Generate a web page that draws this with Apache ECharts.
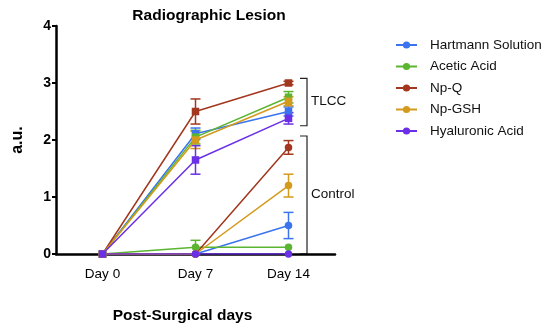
<!DOCTYPE html>
<html><head><meta charset="utf-8">
<script src="https://cdn.jsdelivr.net/npm/echarts@6/dist/echarts.min.js"></script>
<style>html,body{margin:0;padding:0;background:#fff}#c{width:550px;height:329px}</style>
</head><body><div id="c"></div>
<script>
var categories = ['Day 0', 'Day 7', 'Day 14'];
var seriesNames = ['Hartmann Solution', 'Acetic Acid', 'Np-Q', 'Np-GSH', 'Hyaluronic Acid'];
var yTicks = [0, 1, 2, 3, 4];
// TLCC group (squares)
var tlccHartmann = [0, 2.11, 2.5];
var tlccAcetic = [0, 2.05, 2.75];
var tlccNpQ = [0, 2.5, 3.0];
var tlccNpGSH = [0, 2.0, 2.68];
var tlccHyaluronic = [0, 1.65, 2.38];
var tlccHartmannErr = [0, 0.1, 0.08];
var tlccAceticErr = [0, 0.12, 0.1];
var tlccNpQErr = [0, 0.22, 0.03];
var tlccNpGSHErr = [0, 0.15, 0.08];
var tlccHyaluronicErr = [0, 0.25, 0.1];
// Control group (circles)
var ctrlHartmann = [0, 0, 0.5];
var ctrlAcetic = [0, 0.12, 0.12];
var ctrlNpQ = [0, 0, 1.87];
var ctrlNpGSH = [0, 0, 1.2];
var ctrlHyaluronic = [0, 0, 0];
var ctrlHartmannErr = [0, 0, 0.23];
var ctrlAceticErr = [0, 0.12, 0];
var ctrlNpQErr = [0, 0, 0.12];
var ctrlNpGSHErr = [0, 0, 0.2];
var ctrlHyaluronicErr = [0, 0, 0];

var colors = ['#3b74ee', '#5cb531', '#a3361e', '#d49a1c', '#6a2fe6'];
var tlccData = [tlccHartmann, tlccAcetic, tlccNpQ, tlccNpGSH, tlccHyaluronic];
var tlccErr = [tlccHartmannErr, tlccAceticErr, tlccNpQErr, tlccNpGSHErr, tlccHyaluronicErr];
var ctrlData = [ctrlHartmann, ctrlAcetic, ctrlNpQ, ctrlNpGSH, ctrlHyaluronic];
var ctrlErr = [ctrlHartmannErr, ctrlAceticErr, ctrlNpQErr, ctrlNpGSHErr, ctrlHyaluronicErr];

var FONT = 'Liberation Sans, Arial';
var chart = echarts.init(document.getElementById('c'));
var series = [];
function addLine(name, data, color, symbol) {
  series.push({
    type: 'line', name: name, data: data, symbol: symbol, symbolSize: 7.5,
    lineStyle: {color: color, width: 1.5}, itemStyle: {color: color},
    emphasis: {disabled: true}, z: 3
  });
}
function addErr(name, data, err, color) {
  series.push({
    type: 'custom', name: name, z: 2,
    data: data.map(function (v, i) { return [i, v - err[i], v + err[i]]; }),
    renderItem: function (params, api) {
      if (api.value(2) - api.value(1) <= 0) return null;
      var lo = api.coord([api.value(0), api.value(1)]);
      var hi = api.coord([api.value(0), api.value(2)]);
      var w = 5;
      return {type: 'group', children: [
        {type: 'line', shape: {x1: lo[0], y1: lo[1], x2: hi[0], y2: hi[1]}, style: {stroke: color, lineWidth: 1.5}},
        {type: 'line', shape: {x1: lo[0] - w, y1: lo[1], x2: lo[0] + w, y2: lo[1]}, style: {stroke: color, lineWidth: 1.5}},
        {type: 'line', shape: {x1: hi[0] - w, y1: hi[1], x2: hi[0] + w, y2: hi[1]}, style: {stroke: color, lineWidth: 1.5}}
      ]};
    }
  });
}
for (var i = 0; i < 5; i++) addLine(seriesNames[i], ctrlData[i], colors[i], 'circle');
for (var i = 0; i < 5; i++) addLine(seriesNames[i], tlccData[i], colors[i], 'rect');
for (var i = 0; i < 5; i++) addErr(seriesNames[i], ctrlData[i], ctrlErr[i], colors[i]);
for (var i = 0; i < 5; i++) addErr(seriesNames[i], tlccData[i], tlccErr[i], colors[i]);

chart.setOption({
  animation: false,
  title: {text: 'Radiographic Lesion', left: 204, top: 3, textAlign: 'center',
    textStyle: {fontFamily: FONT, fontWeight: 'bold', fontSize: 15.5, color: '#000'}},
  grid: {left: 56, right: 215, top: 26, bottom: 74},
  legend: {
    data: seriesNames, orient: 'vertical', left: 390, top: 33, itemWidth: 21, itemHeight: 9, itemGap: 7.5,
    textStyle: {fontFamily: FONT, fontSize: 13.5, color: '#111', padding: [0, 0, 0, 8]}
  },
  xAxis: {
    type: 'category', data: categories, boundaryGap: true,
    axisLine: {lineStyle: {color: '#000', width: 2.5}},
    axisTick: {alignWithLabel: true, length: 5, lineStyle: {color: '#000', width: 2}},
    axisLabel: {color: '#000', fontFamily: FONT, fontSize: 13.5, margin: 13},
    name: 'Post-Surgical days', nameLocation: 'middle', nameGap: 54,
    nameTextStyle: {fontFamily: FONT, fontWeight: 'bold', fontSize: 15.5, color: '#000', padding: [0, 26, 0, 0]}
  },
  yAxis: {
    type: 'value', min: 0, max: 4, interval: 1,
    axisLine: {show: true, lineStyle: {color: '#000', width: 2.5}},
    axisTick: {show: true, length: 4, lineStyle: {color: '#000', width: 2}},
    splitLine: {show: false},
    axisLabel: {color: '#000', fontFamily: FONT, fontWeight: 'bold', fontSize: 14, margin: 5,
      formatter: function (v) { return yTicks.indexOf(v) >= 0 ? String(v) : ''; }},
    name: 'a.u.', nameLocation: 'middle', nameGap: 30, nameRotate: 90,
    nameTextStyle: {fontFamily: FONT, fontWeight: 'bold', fontSize: 16, color: '#000'}
  },
  series: series
});

// group brackets (annotations)
var bx = 307;
var tTop = chart.convertToPixel({yAxisIndex: 0}, 3.08);
var tBot = chart.convertToPixel({yAxisIndex: 0}, 2.25);
var cTop = chart.convertToPixel({yAxisIndex: 0}, 2.07);
var cBot = chart.convertToPixel({yAxisIndex: 0}, 0);
function bracket(y1, y2) {
  return {type: 'polyline', shape: {points: [[bx - 7, y1], [bx, y1], [bx, y2], [bx - 7, y2]]},
    style: {stroke: '#222', lineWidth: 1.2, fill: null}, silent: true};
}
chart.setOption({graphic: [
  bracket(tTop, tBot), bracket(cTop, cBot),
  {type: 'text', left: 311, top: (tTop + tBot) / 2 - 8, style: {text: 'TLCC', fontFamily: FONT, fontSize: 13.5, fill: '#111'}},
  {type: 'text', left: 311, top: (cTop + cBot) / 2 - 8, style: {text: 'Control', fontFamily: FONT, fontSize: 13.5, fill: '#111'}}
]});
</script></body></html>
